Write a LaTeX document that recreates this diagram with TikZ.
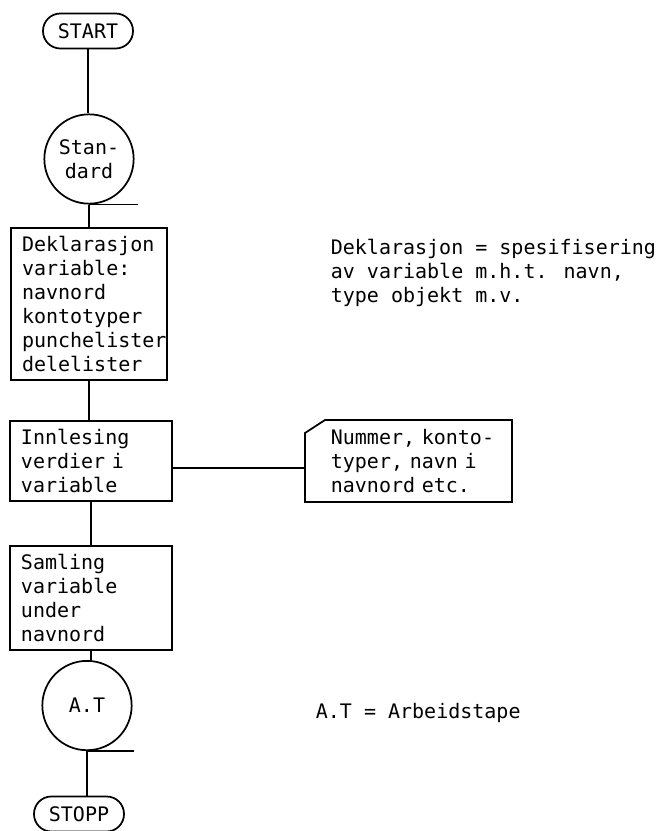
\documentclass[tikz,border=0pt]{standalone}
\usepackage{fontspec}
\setmainfont{DejaVu Sans Mono}
\usepackage{tikz}

\begin{document}
\begin{tikzpicture}[x=0.75pt, y=-0.75pt, line width=1.3pt,
    font=\fontsize{15pt}{18pt}\selectfont,
    terminal/.style={draw, rounded corners=13pt, minimum width=67.5pt, minimum height=26.25pt, inner sep=0pt},
    tape/.style={draw, circle, minimum size=67pt, inner sep=0pt, align=center},
    procbox/.style={draw, align=left, inner xsep=8.25pt, inner ysep=6.3pt, anchor=north}]
          \useasboundingbox (0,0) rectangle (656,831);
          % Main column
          \node[terminal] (start) at (88,31) {START};
          \node[tape] (std) at (89,159) {Stan-\\dard};
          \node[procbox, text width=100.5pt] (dekl) at (89,227) {Deklarasjon\\variable:\\navnord\\kontotyper\\punchelister\\delelister};
          \node[procbox, text width=105pt] (innl) at (91,420) {Innlesing\\verdier i\\variable};
          \node[procbox, text width=105pt] (sam) at (91,545) {Samling\\variable\\under\\navnord};
          \node[tape, anchor=north] (at) at (87,660) {A.T};
          \node[terminal] (stopp) at (79,814) {STOPP};
          \foreach \a/\b in {start/std, std/dekl, dekl/innl, innl/sam, sam/at, at/stopp}
            \draw (\a.south) -- (\a.south |- \b.north);
          % tape tails
          \draw (std.south) -- ++(49,0);
          \draw (at.south) -- ++(47,0);
          % Notes
          \node[anchor=north west, inner sep=0pt, align=left] (dekltxt) at (330,238) {Deklarasjon = spesifisering\\av variable m.h.t. navn,\\type objekt m.v.};
          \node[anchor=north west, inner xsep=0pt, inner ysep=6.3pt, text width=130pt, align=left] (note) at (330,420) {Nummer, konto-\\typer, navn i\\navnord etc.};
          \draw ([xshift=-18.75pt, yshift=-9.75pt]note.north west) -- ([xshift=-3.75pt]note.north west)
            -- ([xshift=5.25pt]note.north east) -- ([xshift=5.25pt]note.south east)
            -- ([xshift=-18.75pt]note.south west) -- cycle;
          \coordinate (noteL) at ([xshift=-18.75pt]note.west);
          \draw ([yshift=-5pt]innl.east) -- ([yshift=-5pt]innl.east -| noteL);
          \node[anchor=base west, inner sep=0pt] (attxt) at (315,718) {A.T = Arbeidstape};
        \end{tikzpicture}
\end{document}
